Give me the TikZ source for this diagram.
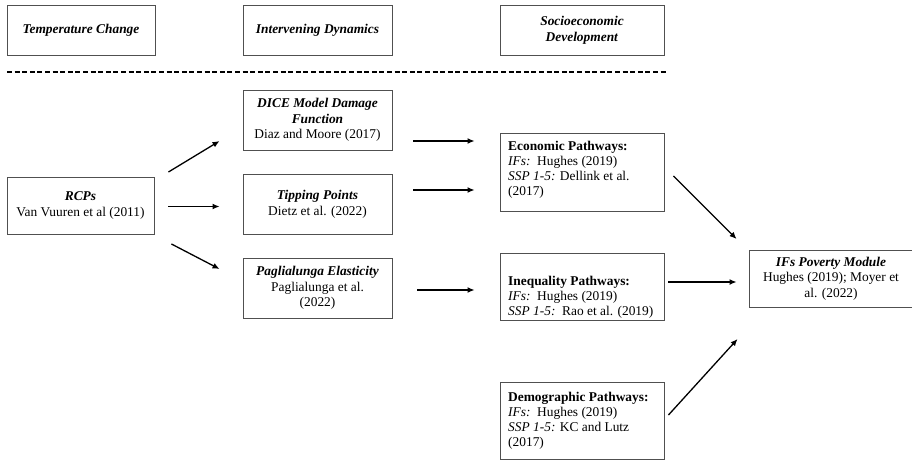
\documentclass[tikz,border=0pt]{standalone}
\usepackage{fontspec}
\setmainfont{Liberation Serif}
\usetikzlibrary{arrows.meta,calc}
\definecolor{boxgray}{HTML}{505050}
\begin{document}
\begin{tikzpicture}[x=1pt,y=-1pt,
  box/.style={draw=boxgray, line width=0.9pt, inner sep=0pt, align=center,
    font=\fontsize{13.4}{15.6}\selectfont},
  txt/.style={inner sep=0pt, align=left, anchor=west,
    font=\fontsize{13.4}{15}\selectfont},
  arr/.style={line width=1.3pt, -{Latex[length=7pt,width=6pt]}}]
\useasboundingbox (0,0) rectangle (912,461);
% header boxes
\node[box, minimum width=148pt, minimum height=50pt] (temp) at (81,30) {\textbf{\textit{Temperature Change}}};
\node[box, minimum width=149pt, minimum height=50pt] (interv) at (317.5,30) {\textbf{\textit{Intervening Dynamics}}};
\node[box, minimum width=164pt, minimum height=50pt] (socio) at (582,30) {\textbf{\textit{Socioeconomic}}\\\textbf{\textit{Development}}};
% dashed separator
\coordinate (dl) at (7,72);
\coordinate (dr) at (668,72);
\draw[line width=1.4pt, dash pattern=on 5pt off 2.6pt] (dl) -- (dr);
% left column
\node[box, minimum width=147pt, minimum height=57pt] (rcp) at (80.5,205.5) {\textbf{\textit{RCPs}}\\Van Vuuren et al (2011)};
% middle column
\node[box, minimum width=149pt, minimum height=60pt] (dice) at (317.5,120) {\textbf{\textit{DICE Model Damage}}\\\textbf{\textit{Function}}\\Diaz and Moore (2017)};
\node[box, minimum width=149pt, minimum height=60pt] (tip) at (317.5,204) {\textbf{\textit{Tipping Points}}\\Dietz et al. (2022)};
\node[box, minimum width=149pt, minimum height=60pt] (pag) at (317.5,288) {\textbf{\textit{Paglialunga Elasticity}}\\Paglialunga et al.\\(2022)};
% right column boxes
\node[box, minimum width=164pt, minimum height=78pt] (econ) at (582,172) {};
\node[box, minimum width=164pt, minimum height=67pt] (ineq) at (582,286.5) {};
\node[box, minimum width=164pt, minimum height=77pt] (demo) at (582,420.5) {};
\node[txt] (econt) at (508,170) {\textbf{Economic Pathways:}\\\textit{IFs:}\ \ Hughes (2019)\\\textit{SSP 1-5:} Dellink et al.\\(2017)};
\node[txt] (ineqt) at (508,297) {\textbf{Inequality Pathways:}\\\textit{IFs:}\ \ Hughes (2019)\\\textit{SSP 1-5:}\ \ Rao et al. (2019)};
\node[txt] (demot) at (508,421) {\textbf{Demographic Pathways:}\\\textit{IFs:}\ \ Hughes (2019)\\\textit{SSP 1-5:} KC and Lutz\\(2017)};
% poverty module
\node[box, minimum width=164pt, minimum height=57pt] (ifs) at (831,278.5) {\textbf{\textit{IFs Poverty Module}}\\Hughes (2019); Moyer et\\al. (2022)};
% arrows
\draw[arr] ($(rcp.east)+(14,-33.5)$) -- ($(dice.west)+(-23,21)$);
\draw[arr] ($(rcp.east)+(14,1)$) -- ($(tip.west)+(-23,2.5)$);
\draw[arr] ($(rcp.east)+(17,38.5)$) -- ($(pag.west)+(-23,-19)$);
\draw[arr] ($(dice.east)+(21,21)$) -- ($(econ.west)+(-25,-31)$);
\draw[arr] ($(tip.east)+(21,-14)$) -- ($(econ.west)+(-25,18)$);
\draw[arr] ($(pag.east)+(25,2)$) -- ($(ineq.west)+(-25,3.5)$);
\draw[arr] ($(econ.east)+(9,4)$) -- ($(ifs.west)+(-12,-39.5)$);
\draw[arr] ($(ineq.east)+(4,-4.5)$) -- ($(ifs.west)+(-12,3.5)$);
\draw[arr] ($(demo.east)+(4,-5.5)$) -- ($(ifs.west)+(-11,60.5)$);
\end{tikzpicture}
\end{document}
